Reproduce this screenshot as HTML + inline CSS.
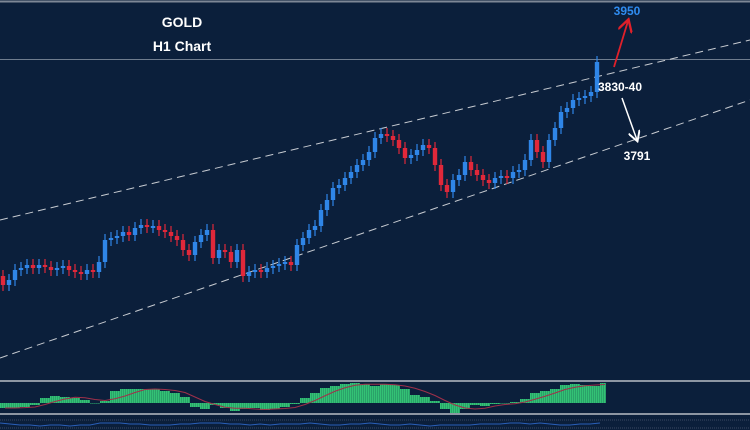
<!DOCTYPE html>
<html><head><meta charset="utf-8"><style>
html,body{margin:0;padding:0;background:#0b1f3b;}
svg{display:block;font-family:"Liberation Sans",sans-serif;}
</style></head><body>
<svg id="chart" width="750" height="430" viewBox="0 0 750 430">
<rect width="750" height="430" fill="#0b1f3b"/>
<line x1="0" y1="1.5" x2="750" y2="1.5" stroke="#7d8796" stroke-width="2"/>
<line x1="0" y1="59.5" x2="750" y2="59.5" stroke="#6f7c8e" stroke-width="1"/>
<line x1="0" y1="220" x2="750" y2="40" stroke="#c8ccd2" stroke-width="1" stroke-dasharray="8,5"/>
<line x1="0" y1="358" x2="750" y2="100" stroke="#c8ccd2" stroke-width="1" stroke-dasharray="8,5"/>
<g id="candles"></g>
<text x="182" y="27" fill="#fff" font-size="14" font-weight="bold" text-anchor="middle">GOLD</text>
<text x="182" y="51" fill="#fff" font-size="14" font-weight="bold" text-anchor="middle">H1 Chart</text>
<text x="627" y="15" fill="#2f8cf0" font-size="12" font-weight="bold" text-anchor="middle">3950</text>
<text x="620" y="91" fill="#fff" font-size="12" font-weight="bold" text-anchor="middle">3830-40</text>
<text x="637" y="160" fill="#fff" font-size="12" font-weight="bold" text-anchor="middle">3791</text>
<defs>
<marker id="ar" markerWidth="8" markerHeight="8" refX="6" refY="4" orient="auto"><path d="M0,0 L7,4 L0,8" fill="none" stroke="#e0202a" stroke-width="1.3"/></marker>
<marker id="aw" markerWidth="8" markerHeight="8" refX="6" refY="4" orient="auto"><path d="M0,0 L7,4 L0,8" fill="none" stroke="#fff" stroke-width="1.3"/></marker>
</defs>
<line x1="614" y1="67" x2="628" y2="21" stroke="#e0202a" stroke-width="1.8" marker-end="url(#ar)"/>
<line x1="622" y1="98" x2="637" y2="140" stroke="#fff" stroke-width="1.5" marker-end="url(#aw)"/>
<line x1="0" y1="381" x2="750" y2="381" stroke="#8d96a3" stroke-width="2"/>
<line x1="0" y1="414" x2="750" y2="414" stroke="#8d96a3" stroke-width="2"/>
<g id="hist"></g>
<line x1="0" y1="420" x2="750" y2="420" stroke="#3b4a63" stroke-width="1" stroke-dasharray="1,1"/>
<line x1="0" y1="428" x2="750" y2="428" stroke="#3b4a63" stroke-width="1" stroke-dasharray="1,1"/>
<g id="osc"></g>
</svg>
<script>
const closes=[3747.5,3750,3755,3756,3757.5,3756,3757.5,3756.5,3755,3756,3757,3755,3754,3753,3755,3754,3759,3770,3771,3772,3774,3772.5,3776,3777.5,3776.5,3777,3775,3774,3772,3770,3765,3762.5,3769,3772.5,3775,3761,3765,3764,3759,3765,3752,3754,3755,3754,3756,3757,3758,3759,3757.5,3767.5,3771,3775,3777,3785,3790,3796,3797.5,3801,3804,3807.5,3810,3814,3821,3823,3822,3820,3816,3811,3812.5,3815,3817.5,3816,3807.5,3797.5,3794,3800,3802.5,3809,3805,3802.5,3800,3798.5,3801,3802,3801,3804,3805,3810,3820,3814,3809,3820,3826,3834,3836,3840,3841,3842,3844,3859];
const firstOpen=3752;
const hist=[-5,-5,-4,-2,5,7,6,5,3,0,2,12,14,14,14,14,12,10,6,-4,-6,-2,-5,-8,-6,-5,-7,-6,-4,-1,5,10,15,17,19,20,19,17,19,18,14,8,6,2,-6,-10,-6,-2,-3,-1,0,1,4,10,12,14,18,19,18,17,20];
const osc=[3,2,1,1,0,1,1,0,1,1,3,3,3,2,2,1,1,1,2,2,3,3,3,2,2,1,2,1,2,2,2,3,2,1,1,2,2,3,2,1,1,2,1,0,1,1,1,1,2,2,2,3,3,2,3,2,1,1,2,2,3];
const NS='http://www.w3.org/2000/svg';
const yP=p=>(3890-p)*2;
const xC=i=>3+i*6;
const g=document.getElementById('candles');
closes.forEach((c,i)=>{
  const o=i===0?firstOpen:closes[i-1];
  const up=c>=o;const col=up?'#2f86e8':'#e0283a';
  const hi=Math.max(o,c)+3, lo=Math.min(o,c)-3;
  const w=document.createElementNS(NS,'line');
  w.setAttribute('x1',xC(i));w.setAttribute('x2',xC(i));
  w.setAttribute('y1',yP(hi));w.setAttribute('y2',yP(lo));
  w.setAttribute('stroke',col);w.setAttribute('stroke-width','1.2');
  
  
  g.appendChild(w);
  const r=document.createElementNS(NS,'rect');
  const top=yP(Math.max(o,c)),bot=yP(Math.min(o,c));
  r.setAttribute('x',xC(i)-2.2);r.setAttribute('width',4.4);
  r.setAttribute('y',top);r.setAttribute('height',Math.max(2,bot-top));
  r.setAttribute('fill',col);
  
  
  g.appendChild(r);
});
const hg=document.getElementById('hist');
const base=403,xH=i=>i*10;
hist.forEach((v,i)=>{
  for(let k=0;k<10&&xH(i)+k<=605;k+=2){
    const r=document.createElementNS(NS,'rect');
    r.setAttribute('x',xH(i)+k);r.setAttribute('width',1.8);
    r.setAttribute('y',v>=0?base-v:base);r.setAttribute('height',Math.abs(v)||0.5);
    r.setAttribute('fill','#33c275');
    
    
    hg.appendChild(r);
  }
});
let pts=hist.map((v,i)=>{const a=hist.slice(Math.max(0,i-3),i+1);const m=a.reduce((s,x)=>s+x,0)/a.length;return (xH(i)+5)+','+(base-m);}).join(' ');
const sig=document.createElementNS(NS,'polyline');
sig.setAttribute('points',pts);sig.setAttribute('fill','none');sig.setAttribute('stroke','#a0304a');sig.setAttribute('stroke-width','1');


hg.appendChild(sig);
const op=document.createElementNS(NS,'polyline');
op.setAttribute('points',osc.map((v,i)=>(i*10)+','+(426-v)).join(' '));
op.setAttribute('fill','none');op.setAttribute('stroke','#2a5fb8');op.setAttribute('stroke-width','1');


document.getElementById('osc').appendChild(op);
</script>
</body></html>
